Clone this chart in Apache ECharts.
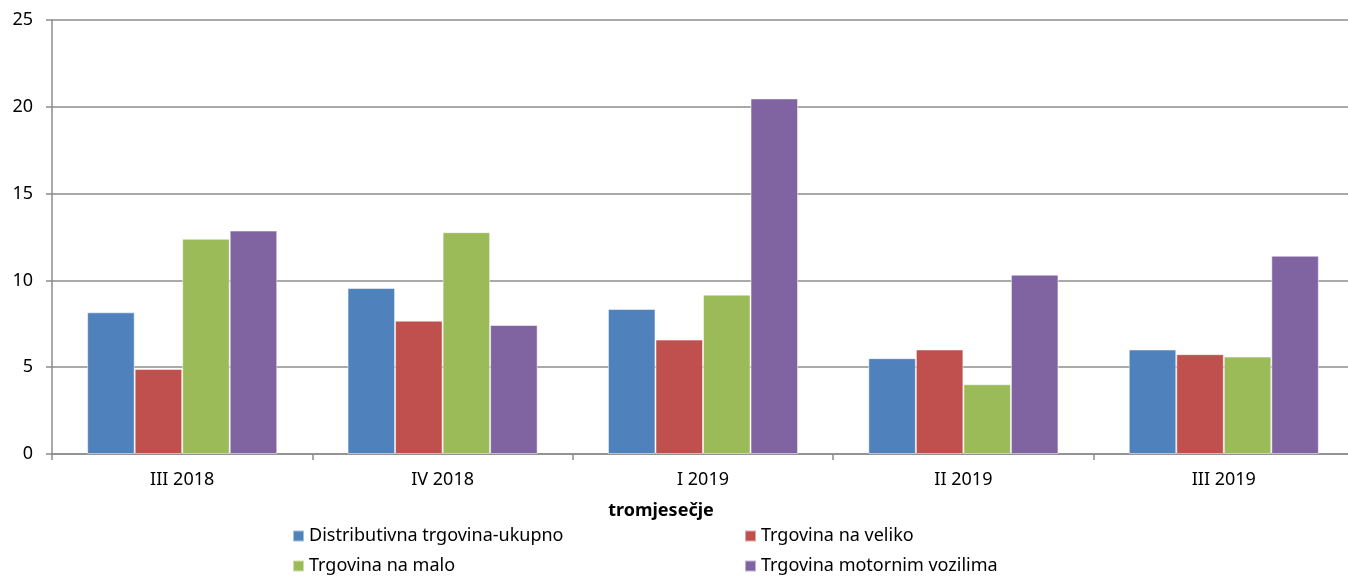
<!DOCTYPE html>
<html>
<head>
	<meta charset="utf-8">
	<title>tromjesečje</title>
	<script src="https://cdn.jsdelivr.net/npm/echarts@6/dist/echarts.min.js"></script>
	<style>
		html, body { margin: 0; padding: 0; background: #fff; }
	</style>
</head>
<body>
	<div id="echart" style="width: 1348px; height: 576px"></div>
	<script>
		// podaci
		let categories = ['III 2018', 'IV 2018', 'I 2019', 'II 2019', 'III 2019'];
		let seriesNames = ['Distributivna trgovina-ukupno', 'Trgovina na veliko', 'Trgovina na malo', 'Trgovina motornim vozilima'];
		let ukupno = [8.16, 9.56, 8.35, 5.52, 6.02];
		let veliko = [4.9, 7.68, 6.59, 6.02, 5.75];
		let malo = [12.4, 12.78, 9.18, 4.02, 5.61];
		let vozila = [12.87, 7.43, 20.48, 10.33, 11.42];
		let colors = ['#4F81BD', '#C0504D', '#9BBB59', '#8064A2'];

		let font = 'Noto Sans';
		let fs = 18;
		let mychart = echarts.init(document.getElementById('echart'));

		// legenda u dva stupca
		let legendPos = [
			{ left: 287, top: 522 },
			{ left: 739, top: 522 },
			{ left: 287, top: 552 },
			{ left: 739, top: 552 }
		];
		let legends = seriesNames.map(function(name, i) {
			return {
				data: [name],
				left: legendPos[i].left,
				top: legendPos[i].top,
				icon: 'rect',
				itemWidth: 11,
				itemHeight: 11,
				itemGap: 0,
				selectedMode: false,
				textStyle: { fontFamily: font, fontSize: fs, color: '#000', padding: [0, 0, 0, 0] }
			};
		});

		let option = {
			animation: false,
			color: colors,
			legend: legends,
			grid: { left: 52, right: -6, top: 20, bottom: 122, outerBoundsMode: 'none' },
			xAxis: {
				type: 'category',
				data: categories,
				name: 'tromjesečje',
				nameLocation: 'middle',
				nameGap: 48,
				nameTextStyle: { fontFamily: font, fontSize: fs, fontWeight: 'bold', color: '#000', padding: [0, 84, 0, 0] },
				axisLine: { lineStyle: { color: '#8c8c8c', width: 1.5 } },
				axisTick: { show: true, length: 6, lineStyle: { color: '#8c8c8c', width: 1.5 } },
				axisLabel: { fontFamily: font, fontSize: fs, color: '#000', margin: 17 }
			},
			yAxis: {
				type: 'value',
				min: 0,
				max: 25,
				interval: 5,
				axisLine: { show: true, lineStyle: { color: '#8c8c8c', width: 1.5 } },
				axisTick: { show: true, length: 6, lineStyle: { color: '#8c8c8c', width: 1.5 } },
				axisLabel: { fontFamily: font, fontSize: fs, color: '#000', margin: 19 },
				splitLine: { lineStyle: { color: '#8c8c8c', width: 1.5 } }
			},
			series: [ukupno, veliko, malo, vozila].map(function(data, i) {
				return {
					name: seriesNames[i],
					type: 'bar',
					data: data,
					barGap: '0%',
					barCategoryGap: '27%',
					itemStyle: { borderColor: 'rgba(255,255,255,0.5)', borderWidth: 1 }
				};
			})
		};
		mychart.setOption(option);
	</script>
</body>
</html>
